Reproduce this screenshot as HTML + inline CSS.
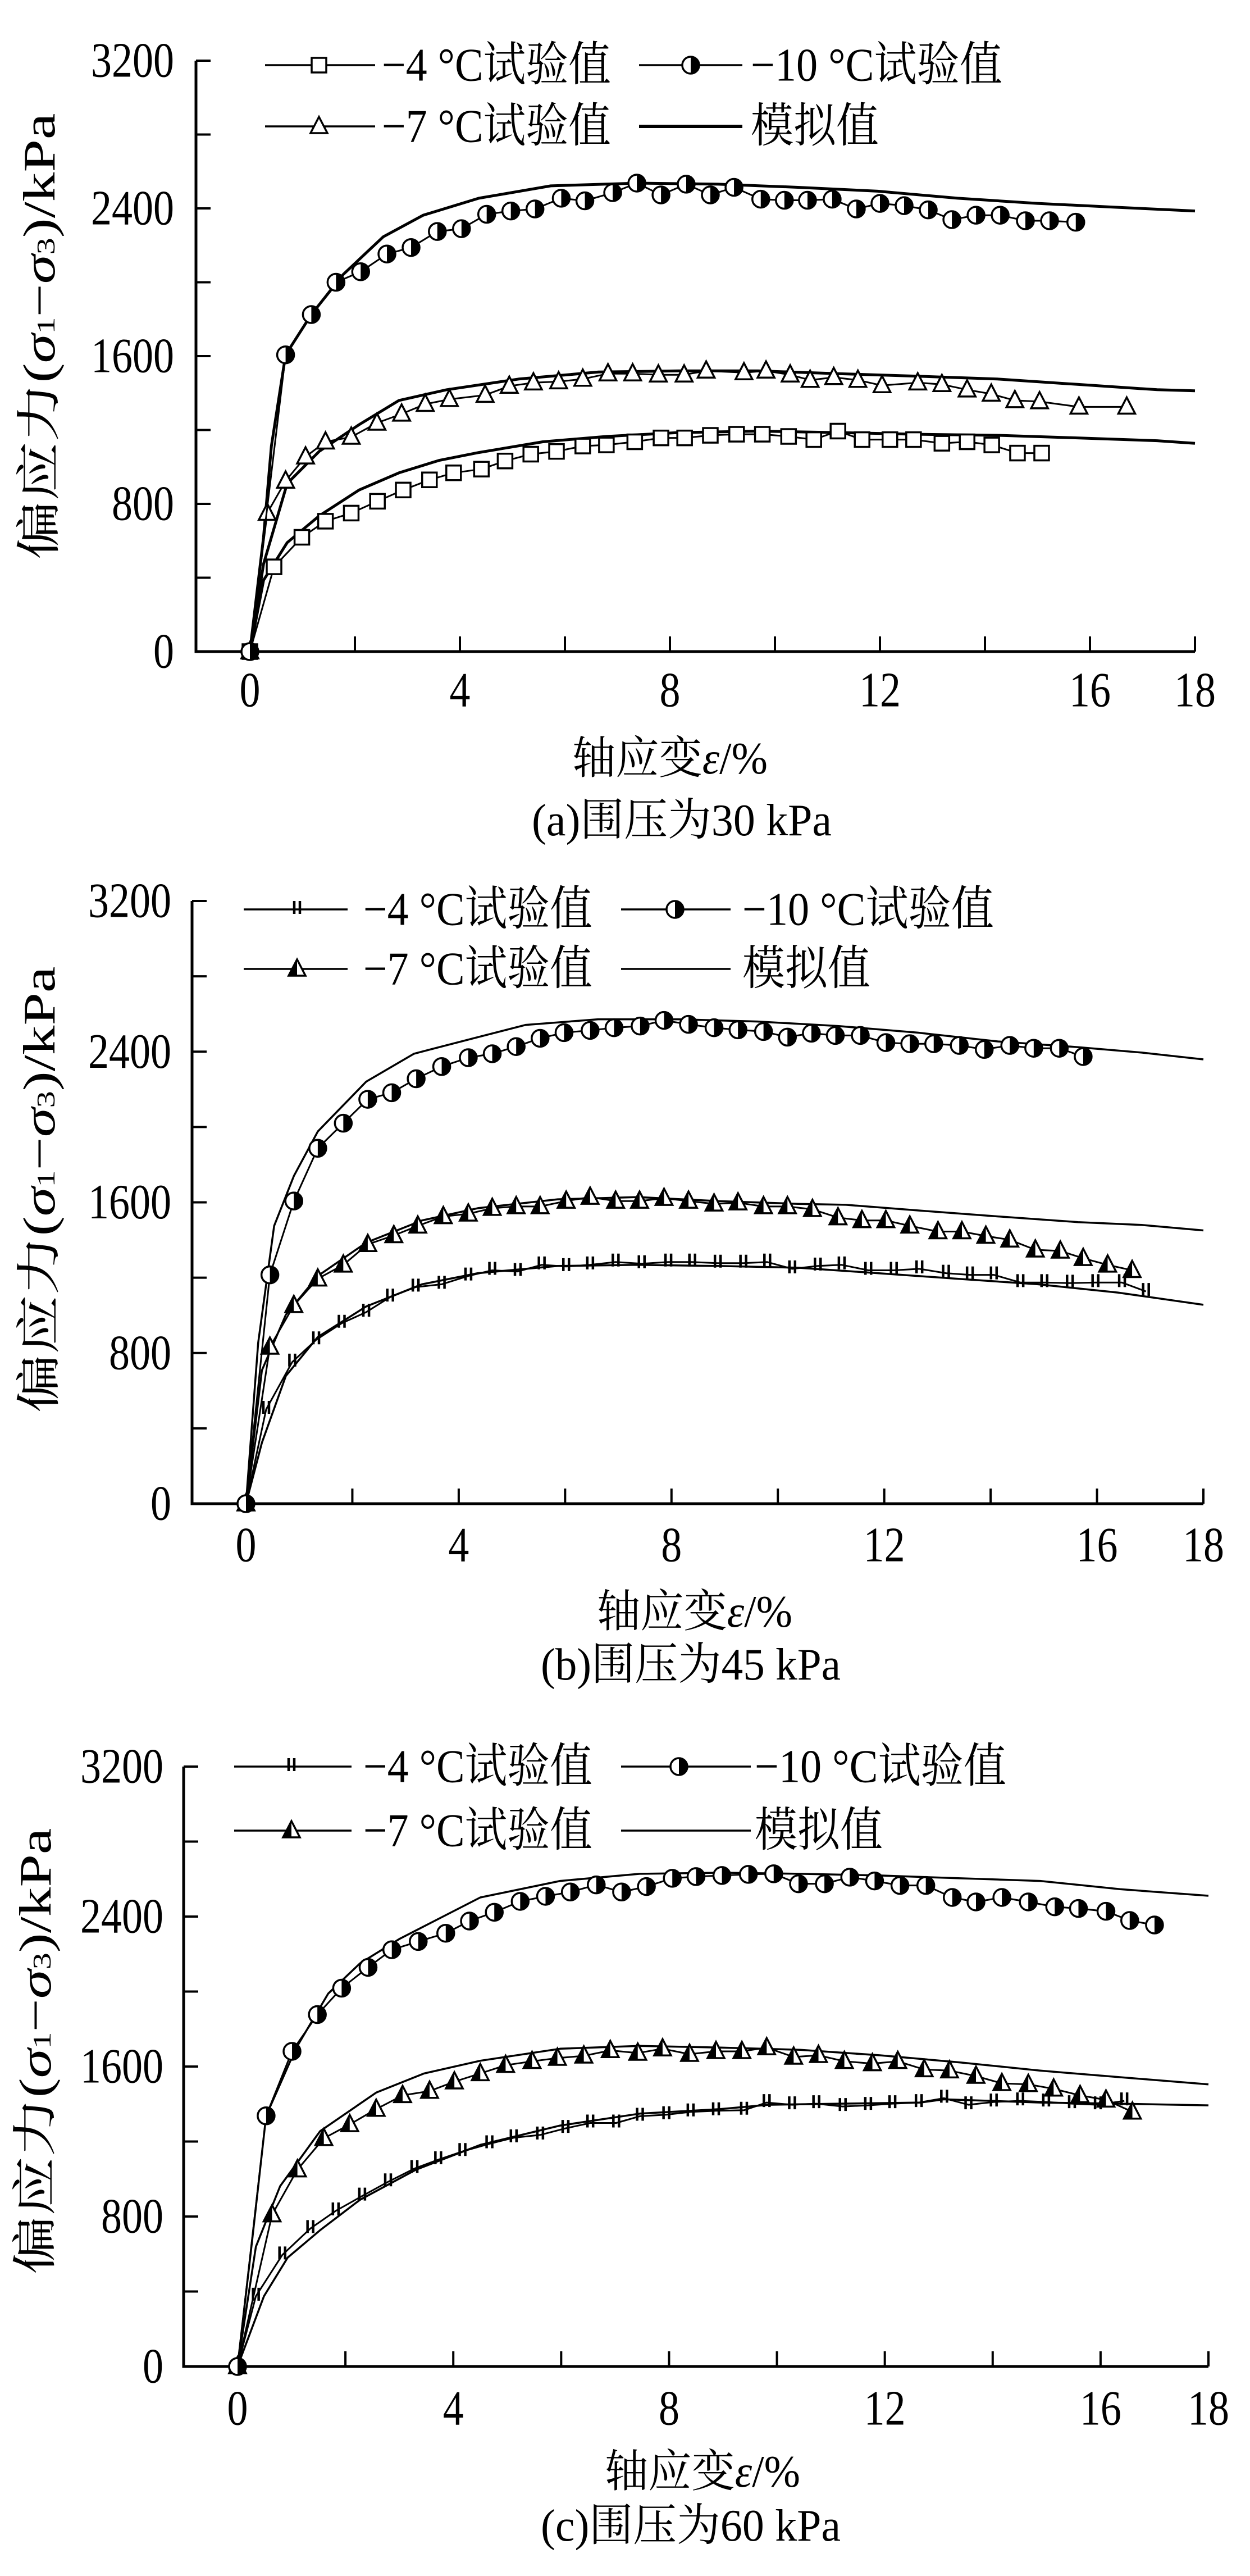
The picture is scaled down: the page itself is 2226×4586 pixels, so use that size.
<!DOCTYPE html>
<html><head><meta charset="utf-8">
<style>
html,body{margin:0;padding:0;background:#fff;}
svg{display:block;}
text{fill:#000;}
.num{font-family:"Liberation Serif","Noto Serif CJK SC",serif;font-size:88px;}
.cjk{font-family:"Liberation Serif","Noto Serif CJK SC",serif;font-size:80px;}
.leg{font-family:"Liberation Serif","Noto Serif CJK SC",serif;font-size:84px;}
</style></head>
<body>
<svg id="fig" width="2226" height="4586" viewBox="0 0 2226 4586" xmlns="http://www.w3.org/2000/svg"></svg>
<script>
// ---------- data (strain %, deviatoric stress kPa) ----------
// Panel (a) 30 kPa
const aExpX4 = [0,0.46,0.99,1.44,1.93,2.43,2.92,3.42,3.88,4.41,4.86,5.35,5.84,6.34,6.79,7.33,7.83,8.28,8.77,9.27,9.76,10.26,10.74,11.2,11.66,12.19,12.64,13.18,13.66,14.13,14.62,15.08];
const aExpY4 = [0,459,619,706,750,814,875,930,968,988,1032,1069,1084,1113,1119,1136,1157,1157,1171,1177,1177,1165,1148,1194,1148,1148,1148,1128,1136,1119,1075,1075];
const aExpX7 = [0,0.33,0.68,1.06,1.44,1.93,2.42,2.89,3.34,3.8,4.48,4.94,5.4,5.88,6.34,6.82,7.29,7.78,8.27,8.69,9.41,9.83,10.29,10.67,11.12,11.58,12.04,12.72,13.18,13.66,14.12,14.57,15.04,15.79,16.7];
const aExpY7 = [0,750,924,1055,1136,1162,1238,1287,1340,1366,1389,1438,1456,1462,1476,1505,1505,1499,1499,1520,1511,1520,1499,1470,1485,1470,1441,1456,1447,1418,1395,1360,1354,1325,1325];
const aExpX10 = [0,0.68,1.17,1.64,2.11,2.61,3.07,3.57,4.03,4.51,4.97,5.43,5.93,6.38,6.91,7.37,7.83,8.31,8.77,9.22,9.73,10.18,10.62,11.09,11.55,12.0,12.46,12.92,13.37,13.83,14.29,14.77,15.23,15.73];
const aExpY10 = [0,1607,1825,2000,2057,2153,2188,2275,2290,2368,2386,2397,2455,2441,2485,2537,2473,2531,2473,2514,2450,2444,2444,2450,2397,2427,2415,2392,2339,2363,2363,2333,2333,2325];
const aSimX4 = [0,0.26,0.71,1.32,2.08,2.84,3.6,4.36,5.58,6.79,8.16,9.68,11.2,12.72,14.24,15.76,17.28,18];
const aSimY4 = [0,386,590,735,875,968,1035,1078,1136,1165,1186,1194,1186,1177,1171,1157,1142,1128];
const aSimX7 = [0,0.26,0.71,1.32,2.08,2.84,3.75,5.12,6.64,8.16,9.68,11.2,12.72,14.24,15.76,17.28,18];
const aSimY7 = [0,474,910,1084,1229,1360,1418,1476,1514,1520,1520,1505,1491,1476,1447,1418,1412];
const aSimX10 = [0,0.26,0.41,0.68,1.17,1.78,2.54,3.3,4.36,5.73,7.4,8.92,10.44,11.96,13.48,15.0,16.5,18];
const aSimY10 = [0,619,1113,1607,1825,2043,2246,2363,2455,2522,2537,2531,2514,2493,2455,2427,2406,2386];
// Panel (b) 45 kPa
const bExpX4 = [0,0.38,0.87,1.32,1.8,2.26,2.71,3.19,3.68,4.18,4.63,5.11,5.56,6.02,6.47,6.95,7.44,7.94,8.39,8.87,9.35,9.8,10.27,10.75,11.2,11.7,12.18,12.66,13.16,13.61,14.06,14.56,15.01,15.49,15.97,16.47,16.92];
const bExpY4 = [0,501,752,870,958,1017,1097,1150,1165,1209,1239,1233,1268,1259,1268,1283,1274,1283,1283,1277,1277,1283,1247,1262,1268,1239,1239,1247,1224,1215,1215,1174,1174,1171,1174,1174,1127];
const bExpX7 = [0,0.45,0.9,1.35,1.83,2.29,2.78,3.23,3.71,4.18,4.63,5.08,5.53,6.02,6.47,6.95,7.4,7.86,8.32,8.8,9.25,9.73,10.18,10.65,11.13,11.58,12.03,12.48,13.01,13.46,13.91,14.36,14.84,15.31,15.74,16.2,16.66];
const bExpY7 = [0,832,1053,1194,1268,1377,1424,1475,1525,1539,1569,1578,1578,1607,1628,1607,1607,1622,1607,1592,1598,1578,1578,1563,1519,1504,1504,1475,1445,1445,1421,1401,1348,1342,1303,1268,1239];
const bExpX10 = [0,0.45,0.9,1.35,1.83,2.29,2.74,3.2,3.68,4.18,4.63,5.08,5.53,5.98,6.47,6.92,7.41,7.86,8.32,8.8,9.25,9.73,10.18,10.63,11.08,11.55,12.03,12.48,12.93,13.41,13.88,14.36,14.81,15.29,15.74];
const bExpY10 = [0,1215,1607,1887,2020,2147,2182,2256,2321,2368,2389,2427,2471,2501,2513,2527,2536,2566,2545,2527,2516,2507,2477,2498,2486,2486,2448,2442,2442,2433,2412,2433,2418,2418,2374];
const bSimX4 = [0,0.3,0.75,1.35,2.26,3.31,4.36,5.86,7.37,8.87,10.38,11.88,13.38,14.89,16.39,18];
const bSimY4 = [0,324,678,885,1047,1165,1224,1262,1268,1262,1253,1224,1194,1165,1121,1056];
const bSimX7 = [0,0.3,0.75,1.35,2.26,3.31,4.36,5.86,7.37,8.87,10.38,11.28,12.63,14.14,15.64,16.84,18];
const bSimY7 = [0,708,1003,1209,1386,1504,1569,1616,1628,1607,1592,1587,1557,1525,1495,1480,1451];
const bSimX10 = [0,0.23,0.53,0.9,1.35,2.26,3.16,4.36,5.26,6.62,8.12,9.62,11.13,12.63,14.14,15.64,16.84,18];
const bSimY10 = [0,855,1475,1740,1976,2241,2389,2477,2542,2572,2572,2560,2536,2501,2454,2424,2395,2359];
// Panel (c) 60 kPa
const cExpX4 = [0,0.34,0.83,1.35,1.82,2.31,2.79,3.28,3.72,4.17,4.67,5.12,5.61,6.08,6.54,7.02,7.46,7.95,8.4,8.87,9.39,9.81,10.28,10.73,11.22,11.69,12.14,12.63,13.1,13.55,14.02,14.51,14.99,15.47,15.95,16.44];
const cExpY4 = [0,375,595,736,830,909,985,1056,1103,1147,1188,1220,1235,1270,1299,1299,1335,1343,1358,1364,1367,1408,1396,1402,1387,1393,1402,1408,1431,1396,1411,1417,1411,1402,1396,1417];
const cExpX7 = [0,0.64,1.11,1.6,2.08,2.57,3.06,3.56,4.02,4.5,4.97,5.46,5.93,6.42,6.91,7.42,7.88,8.38,8.87,9.35,9.81,10.31,10.77,11.25,11.77,12.24,12.73,13.2,13.69,14.17,14.66,15.13,15.62,16.1,16.59];
const cExpY7 = [0,810,1050,1217,1291,1373,1446,1469,1519,1563,1607,1628,1645,1657,1686,1672,1695,1666,1681,1681,1701,1651,1660,1628,1616,1628,1584,1578,1549,1510,1505,1481,1446,1422,1358];
const cExpX10 = [0,0.53,1.01,1.48,1.93,2.42,2.86,3.35,3.86,4.3,4.76,5.24,5.71,6.17,6.65,7.12,7.58,8.06,8.5,8.98,9.47,9.94,10.4,10.88,11.35,11.81,12.28,12.76,13.25,13.69,14.17,14.66,15.15,15.59,16.1,16.54,17.0];
const cExpY10 = [0,1337,1681,1877,2018,2129,2223,2267,2311,2376,2423,2481,2508,2531,2569,2531,2560,2604,2613,2619,2625,2628,2575,2575,2610,2590,2566,2566,2502,2478,2502,2478,2452,2443,2428,2379,2355];
const cSimX4 = [0,0.49,0.93,1.53,2.27,3.31,4.5,5.98,7.46,8.95,9.84,11.17,12.66,13.1,14.88,16.36,18];
const cSimY4 = [0,375,581,727,889,1050,1182,1285,1349,1373,1396,1402,1408,1425,1408,1402,1393];
const cSimX7 = [0,0.34,0.79,1.53,2.57,3.46,4.5,5.98,7.46,8.95,10.43,11.91,13.4,14.88,16.36,18];
const cSimY7 = [0,639,962,1255,1461,1563,1631,1695,1710,1701,1689,1660,1622,1578,1543,1505];
const cSimX10 = [0,0.27,0.53,1.08,1.68,2.27,3.01,4.5,5.98,7.46,8.95,10.43,11.91,13.4,14.88,16.36,18];
const cSimY10 = [0,669,1337,1695,1989,2150,2282,2502,2590,2628,2634,2628,2619,2604,2590,2546,2511];

const xTickLabels = ["0","4","8","12","16","18"];
const xTickValues = [0,4,8,12,16,18];
const yTickLabels = ["0","800","1600","2400","3200"];
const yTickValues = [0,800,1600,2400,3200];
const legendTexts = ["−4 °C试验值","−10 °C试验值","−7 °C试验值","模拟值"];
const legendWidths = [408,448,408,228];
const captions = ["(a)围压为30 kPa","(b)围压为45 kPa","(c)围压为60 kPa"];

// ---------- layout ----------
const NS = "http://www.w3.org/2000/svg";
const svg = document.getElementById('fig');
function mk(tag, attrs, parent){
  const e = document.createElementNS(NS, tag);
  for (const k in attrs) e.setAttribute(k, attrs[k]);
  (parent||svg).appendChild(e);
  return e;
}
const panels = [
 {id:'a', axisX:349, x0:445, x18:2128, y0:1160, yTop:108, tickR:310, xlabY:1229, titleY:1351, titleX:1193, capY:1461, capX:1214, yTitleX:71, yTitleY:599,
  r1:116, r2:225, c1:[472,668,568,680], c2:[1138,1322,1230,1337], m4:'square', m7:'tri-open', simW:5,
  sim:[[aSimX4,aSimY4],[aSimX7,aSimY7],[aSimX10,aSimY10]], exp:[[aExpX4,aExpY4,'m4'],[aExpX7,aExpY7,'m7'],[aExpX10,aExpY10,'m10']]},
 {id:'b', axisX:342, x0:438, x18:2143, y0:2677, yTop:1604, tickR:305, xlabY:2751, titleY:2870, titleX:1237, capY:2964, capX:1230, yTitleX:71, yTitleY:2118,
  r1:1619, r2:1725, c1:[434,619,529,647], c2:[1106,1301,1202,1322], m4:'ticks', m7:'tri-half', simW:3.5,
  sim:[[bSimX4,bSimY4],[bSimX7,bSimY7],[bSimX10,bSimY10]], exp:[[bExpX4,bExpY4,'m4'],[bExpX7,bExpY7,'m7'],[bExpX10,bExpY10,'m10']]},
 {id:'c', axisX:327, x0:423, x18:2152, y0:4213, yTop:3145, tickR:291, xlabY:4288, titleY:4401, titleX:1251, capY:4497, capX:1230, yTitleX:64, yTitleY:3652,
  r1:3145, r2:3259, c1:[417,626,519,647], c2:[1106,1337,1209,1344], m4:'ticks', m7:'tri-half', simW:3.5,
  sim:[[cSimX4,cSimY4],[cSimX7,cSimY7],[cSimX10,cSimY10]], exp:[[cExpX4,cExpY4,'m4'],[cExpX7,cExpY7,'m7'],[cExpX10,cExpY10,'m10']]}
];

function marker(g, type, x, y){
  if (type==='square'){
    const r = mk('rect',{x:x-13,y:y-13,width:26,height:26,fill:'#fff',stroke:'#000','stroke-width':3.5},g);
    
    
  } else if (type==='ticks'){
    const p = mk('path',{d:`M${x-5},${y-15}V${y+8}M${x+5},${y-15}V${y+8}`,stroke:'#000','stroke-width':4.5,fill:'none'},g);
    
    
  } else if (type==='tri-open' || type==='tri-half'){
    const t = mk('polygon',{points:`${x},${y-17} ${x-15},${y+12} ${x+15},${y+12}`,fill:'#fff',stroke:'#000','stroke-width':3.5},g);
    
    
    if (type==='tri-half'){
      const h = mk('polygon',{points:`${x},${y-17} ${x-15},${y+12} ${x},${y+12}`,fill:'#000'},g);
      
      
    }
  } else {
    const c = mk('circle',{cx:x,cy:y,r:15,fill:'#fff',stroke:'#000','stroke-width':3.5},g);
    
    
    const h = mk('path',{d:`M${x},${y-15}A15,15 0 0 1 ${x},${y+15}Z`,fill:'#000'},g);
    
    
  }
}

panels.forEach(P=>{
  const g = mk('g',{});
  
  
  const sx = v => P.x0 + v*(P.x18-P.x0)/18;
  const sy = v => P.y0 - v*(P.y0-P.yTop)/3200;
  const ax = mk('path',{d:`M${P.axisX},${P.yTop}V${P.y0}H${P.x18}`,stroke:'#000','stroke-width':5,fill:'none'},g);
  
  
  for (let v=0; v<=3200; v+=400){
    const t = mk('line',{x1:P.axisX,x2:P.axisX+26,y1:sy(v),y2:sy(v),stroke:'#000','stroke-width':4},g);
    
    
  }
  for (let v=2; v<=18; v+=2){
    const t = mk('line',{x1:sx(v),x2:sx(v),y1:P.y0,y2:P.y0-27,stroke:'#000','stroke-width':4},g);
    
    
  }
  yTickLabels.forEach((s,i)=>{
    const t = mk('text',{x:P.tickR,y:sy(yTickValues[i]),'text-anchor':'end','dominant-baseline':'central',class:'num',textLength:s.length*37,lengthAdjust:'spacingAndGlyphs'},g);
    t.textContent = s;
    
    
  });
  xTickLabels.forEach((s,i)=>{
    const t = mk('text',{x:sx(xTickValues[i]),y:P.xlabY,'text-anchor':'middle','dominant-baseline':'central',class:'num',textLength:s.length*37,lengthAdjust:'spacingAndGlyphs'},g);
    t.textContent = s;
    
    
  });
  const xt = mk('text',{x:P.titleX,y:P.titleY,'text-anchor':'middle','dominant-baseline':'central',class:'cjk',textLength:348,lengthAdjust:'spacingAndGlyphs'},g);
  xt.innerHTML = '轴应变<tspan font-style="italic">ε</tspan>/%';
  
  
  const cap = mk('text',{x:P.capX,y:P.capY,'text-anchor':'middle','dominant-baseline':'central',class:'cjk',textLength:534,lengthAdjust:'spacingAndGlyphs'},g);
  cap.textContent = captions[panels.indexOf(P)];
  
  
  const yt = mk('text',{x:0,y:0,'text-anchor':'middle','dominant-baseline':'central',class:'cjk',textLength:795,lengthAdjust:'spacingAndGlyphs',transform:`translate(${P.yTitleX},${P.yTitleY}) rotate(-90)`},g);
  yt.innerHTML = '偏应力(<tspan font-style="italic">σ</tspan><tspan font-size="46" dy="10">1</tspan><tspan dy="-10">−</tspan><tspan font-style="italic">σ</tspan><tspan font-size="46" dy="10">3</tspan><tspan dy="-10">)/kPa</tspan>';
  
  
  P.sim.forEach(([xs,ys])=>{
    const d = xs.map((v,i)=>(i?'L':'M')+sx(v).toFixed(1)+','+sy(ys[i]).toFixed(1)).join('');
    const l = mk('path',{d,stroke:'#000','stroke-width':P.simW,fill:'none','stroke-linejoin':'round'},g);
    
    
  });
  P.exp.forEach(([xs,ys,k])=>{
    const type = k==='m10' ? 'circle' : P[k];
    const d = xs.map((v,i)=>(i?'L':'M')+sx(v).toFixed(1)+','+sy(ys[i]).toFixed(1)).join('');
    const l = mk('path',{d,stroke:'#000','stroke-width':3,fill:'none','stroke-linejoin':'round'},g);
    
    
    xs.forEach((v,i)=>marker(g,type,sx(v),sy(ys[i])));
  });
  const L = mk('g',{},g);
  
  
  const entries = [[P.c1,P.r1,P.m4,0],[P.c2,P.r1,'circle',1],[P.c1,P.r2,P.m7,2],[P.c2,P.r2,null,3]];
  entries.forEach(([c,y,type,idx])=>{
    const ln = mk('line',{x1:c[0],x2:c[1],y1:y,y2:y,stroke:'#000','stroke-width':type?3.5:(P.id==='a'?6:3.5)},L);
    
    
    if (type) marker(L,type,c[2],y);
    const t = mk('text',{x:c[3],y:y,'dominant-baseline':'central',class:'leg',textLength:legendWidths[idx],lengthAdjust:'spacingAndGlyphs'},L);
    t.textContent = legendTexts[idx];
    
    
  });
});
</script>
</body></html>
